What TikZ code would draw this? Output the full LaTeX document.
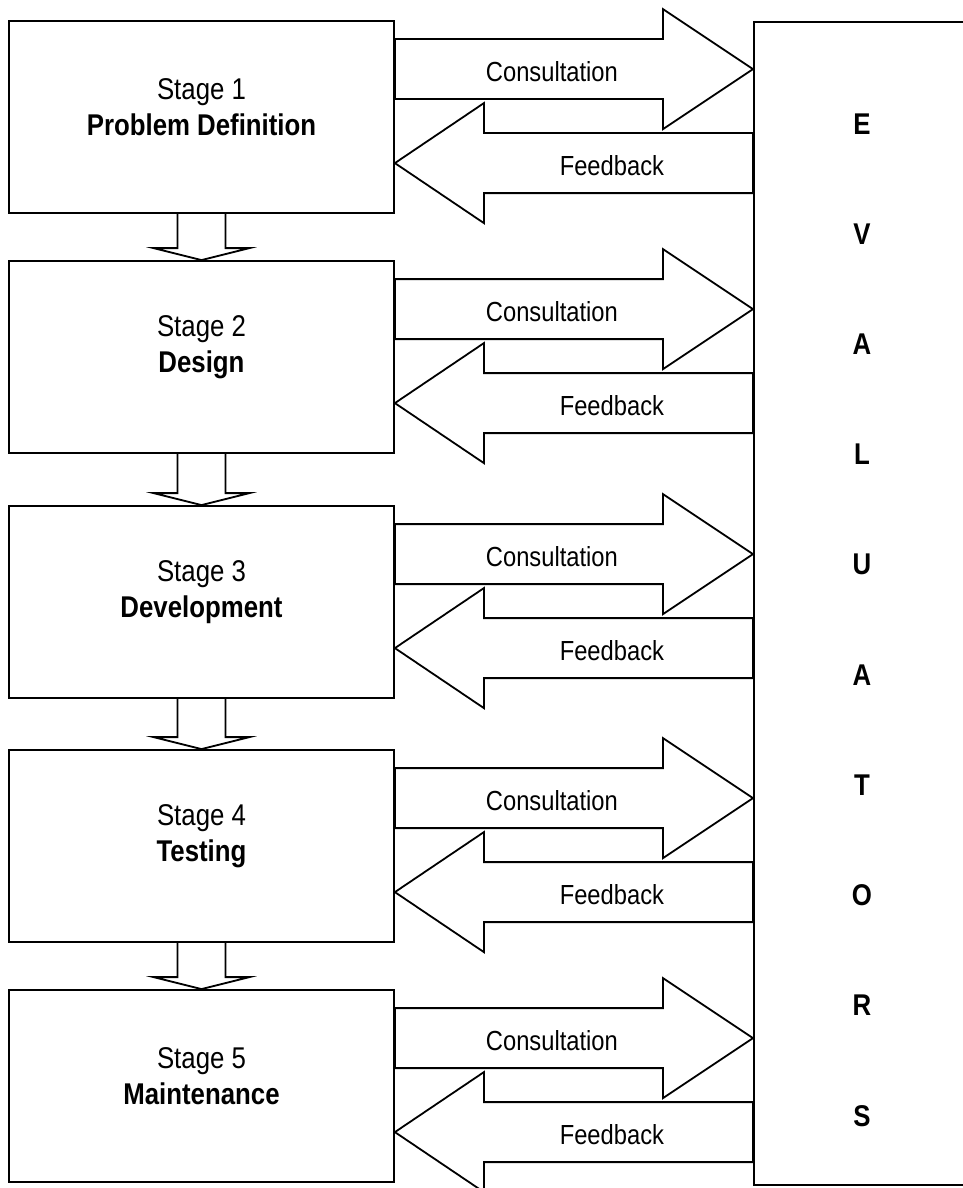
\documentclass[tikz,border=0pt]{standalone}
\usepackage{fontspec}
\setmainfont[FakeStretch=0.86]{Liberation Sans}
\usetikzlibrary{positioning, calc}

\begin{document}
\begin{tikzpicture}[x=1pt, y=-1pt, line width=1.8pt,
  stage/.style={draw, minimum width=385pt, minimum height=192pt, inner sep=0pt},
  stagetxt/.style={align=center, font=\fontsize{30}{36}\selectfont},
  blk/.style={draw, line join=miter},
  lab/.style={font=\fontsize{27.6}{32}\selectfont},
  evl/.style={font=\fontsize{30}{34}\selectfont\bfseries}]
\useasboundingbox (0,0) rectangle (963,1188);
\clip (0,0) rectangle (963,1188);
% evaluators column
\node[draw, anchor=north west, minimum width=217pt, minimum height=1163pt] (ev) at (753,21) {};
\foreach \c [count=\k from 0] in {E,V,A,L,U,A,T,O,R,S}
  \node[evl] (l\k) at (862,124+110.2*\k) {\c};
% stages
\foreach \i/\t/\stname in {1/21/Problem Definition, 2/261/Design, 3/506/Development, 4/750/Testing, 5/990/Maintenance} {
  \node[stage] (s\i) at (201.5,\t+96) {};
  \node[stagetxt] (t\i) at ($(s\i)+(0,-10)$) {Stage \i\\\textbf{\stname}};
}
% consultation and feedback arrows
\foreach \i in {1,...,5} {
  \coordinate (a) at (s\i.north east);
  \coordinate (b) at (ev.west |- s\i.north);
  \draw[blk] ($(a)+(0,19)$) -- ($(b)+(-90,19)$) -- ($(b)+(-90,-11)$) -- ($(b)+(0,49)$)
    -- ($(b)+(-90,109)$) -- ($(b)+(-90,79)$) -- ($(a)+(0,79)$) -- cycle;
  \node[lab] (c\i) at ($(a)+(157,52)$) {Consultation};
  \draw[blk] ($(a)+(0,143)$) -- ($(a)+(89,83)$) -- ($(a)+(89,113)$) -- ($(b)+(0,113)$)
    -- ($(b)+(0,173)$) -- ($(a)+(89,173)$) -- ($(a)+(89,203)$) -- cycle;
  \node[lab] (f\i) at ($(a)+(217,146)$) {Feedback};
}
% down arrows between stages
\foreach \i [evaluate=\i as \j using int(\i+1)] in {1,...,4}
  \draw[blk] ($(s\i.south)+(-24,0)$) -- ($(s\j.north)+(-24,-12)$) -- ($(s\j.north)+(-48,-12)$)
    -- (s\j.north) -- ($(s\j.north)+(48,-12)$) -- ($(s\j.north)+(24,-12)$) -- ($(s\i.south)+(24,0)$);
\end{tikzpicture}
\end{document}
